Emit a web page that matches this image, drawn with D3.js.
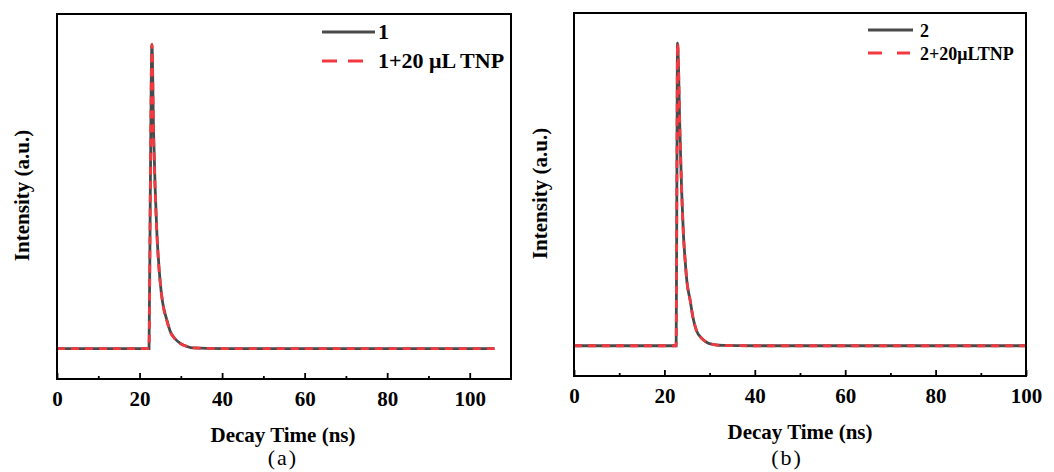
<!DOCTYPE html>
<html>
<head>
<meta charset="utf-8">
<script src="https://cdn.jsdelivr.net/npm/d3@7"></script>
<style>
  body { margin: 0; background: #fff; }
  text { font-family: "Liberation Serif", "Times New Roman", serif; }
</style>
</head>
<body>
<svg id="chart" width="1054" height="472"></svg>
<script>
// decay curves (normalised intensity)
var timeA = [0, 22.3, 22.6, 23.0, 23.4, 23.8, 24.2, 24.6, 25.0, 25.5, 26.0, 26.6, 27.4, 28.5, 29.9, 31.5, 33, 40, 60, 80, 106];
var pureA = [0, 0, 0.5, 1.0, 0.71, 0.52, 0.38, 0.29, 0.22, 0.16, 0.125, 0.095, 0.058, 0.034, 0.017, 0.007, 0.002, 0, 0, 0, 0];
var tnpA  = [0, 0, 0.5, 1.0, 0.70, 0.51, 0.38, 0.28, 0.22, 0.16, 0.12, 0.092, 0.056, 0.033, 0.016, 0.007, 0.002, 0, 0, 0, 0];

var timeB = [0, 22.6, 22.75, 22.9, 23.45, 23.8, 24.2, 24.6, 25.0, 25.7, 26.3, 27.1, 28.2, 29.4, 31, 33, 40, 60, 80, 100];
var pureB = [0, 0, 0.5, 1.0, 0.70, 0.52, 0.37, 0.28, 0.21, 0.15, 0.095, 0.05, 0.025, 0.011, 0.004, 0.001, 0, 0, 0, 0];
var tnpB  = [0, 0, 0.5, 1.0, 0.70, 0.52, 0.37, 0.28, 0.21, 0.15, 0.095, 0.05, 0.025, 0.011, 0.004, 0.001, 0, 0, 0, 0];

var majorTicks = [0, 20, 40, 60, 80, 100];
var minorTicks = [10, 30, 50, 70, 90];
var legendA = ["1", "1+20 \u03bcL TNP"];
var legendB = ["2", "2+20\u03bcLTNP"];

var svg = d3.select("#chart");

function drawPanel(cfg) {
    var x = d3.scaleLinear().domain(cfg.xDomain).range([cfg.left, cfg.right]);
    var y = d3.scaleLinear().domain([-0.1, 1.1]).range([cfg.bottom, cfg.top]);
    var g = svg.append("g");

    // curves: solid grey underneath, red dashes on top
    var line = d3.line()
        .x(function (d) { return x(d[0]); })
        .y(function (d) { return y(d[1]); })
        .curve(d3.curveMonotoneX);

    g.append("path")
        .datum(d3.zip(cfg.time, cfg.pure))
        .attr("d", line)
        .attr("fill", "none")
        .attr("stroke", "#4a4a4a")
        .attr("stroke-width", 2.8);
    g.append("path")
        .datum(d3.zip(cfg.time, cfg.tnp))
        .attr("d", line)
        .attr("fill", "none")
        .attr("stroke", "#f2393f")
        .attr("stroke-width", 2.8)
        .attr("stroke-dasharray", "8,6");

    // ticks point inward
    var axisMajor = d3.axisBottom(x).tickValues(majorTicks).tickSizeInner(-6).tickSizeOuter(0).tickPadding(12);
    var axisMinor = d3.axisBottom(x).tickValues(minorTicks).tickSizeInner(-3).tickSizeOuter(0).tickFormat("");
    var ax = g.append("g").attr("transform", "translate(0," + cfg.bottom + ")").call(axisMajor);
    ax.select(".domain").remove();
    ax.selectAll("line").attr("stroke", "#000").attr("stroke-width", 1.8);
    ax.selectAll("text")
        .attr("font-size", 21).attr("font-weight", "bold").attr("fill", "#000")
        .style("font-family", "'Liberation Serif', serif");
    var am = g.append("g").attr("transform", "translate(0," + cfg.bottom + ")").call(axisMinor);
    am.select(".domain").remove();
    am.selectAll("line").attr("stroke", "#000").attr("stroke-width", 1.8);

    // frame
    g.append("rect")
        .attr("x", cfg.left).attr("y", cfg.top)
        .attr("width", cfg.right - cfg.left).attr("height", cfg.bottom - cfg.top)
        .attr("fill", "none").attr("stroke", "#000").attr("stroke-width", 2);

    // axis titles
    g.append("text")
        .attr("transform", "translate(" + cfg.yLabelX + "," + ((cfg.top + cfg.bottom) / 2 - 1) + ") rotate(-90)")
        .attr("text-anchor", "middle").attr("font-size", 21).attr("font-weight", "bold")
        .text("Intensity (a.u.)");
    g.append("text")
        .attr("x", cfg.xLabelX).attr("y", cfg.bottom + 63)
        .attr("text-anchor", "middle").attr("font-size", 21).attr("font-weight", "bold")
        .text("Decay Time (ns)");
    g.append("text")
        .attr("x", cfg.tagX).attr("y", 465)
        .attr("text-anchor", "middle").attr("font-size", 22)
        .attr("letter-spacing", 2)
        .text(cfg.tag);

    // legend
    var lg = g.append("g");
    var items = [
        { name: cfg.legend[0], color: "#4a4a4a", dash: null, len: cfg.legendLen },
        { name: cfg.legend[1], color: "#f2393f", dash: cfg.legendDash, len: cfg.legendDashLen }
    ];
    items.forEach(function (it, i) {
        var ly = cfg.legendY + i * cfg.legendGap;
        lg.append("line")
            .attr("x1", cfg.legendX).attr("x2", cfg.legendX + it.len)
            .attr("y1", ly).attr("y2", ly)
            .attr("stroke", it.color).attr("stroke-width", 2.8)
            .attr("stroke-dasharray", it.dash);
        lg.append("text")
            .attr("x", cfg.legendX + cfg.legendLen + cfg.legendPad).attr("y", ly + 7)
            .attr("font-size", cfg.legendFont).attr("font-weight", "bold")
            .text(it.name);
    });
}

drawPanel({
    left: 57, right: 511, top: 14, bottom: 379,
    xDomain: [0, 110],
    time: timeA, pure: pureA, tnp: tnpA,
    yLabelX: 29, xLabelX: 283, tagX: 283, tag: "(a)",
    legend: legendA, legendX: 322, legendLen: 53, legendDashLen: 41, legendPad: 3,
    legendY: 32, legendGap: 29, legendFont: 22, legendDash: "15,11"
});

drawPanel({
    left: 574, right: 1026, top: 13, bottom: 376,
    xDomain: [0, 100],
    time: timeB, pure: pureB, tnp: tnpB,
    yLabelX: 547, xLabelX: 800, tagX: 787, tag: "(b)",
    legend: legendB, legendX: 868, legendLen: 45, legendDashLen: 42, legendPad: 7,
    legendY: 30, legendGap: 23, legendFont: 18, legendDash: "14,15"
});
</script>
</body>
</html>
